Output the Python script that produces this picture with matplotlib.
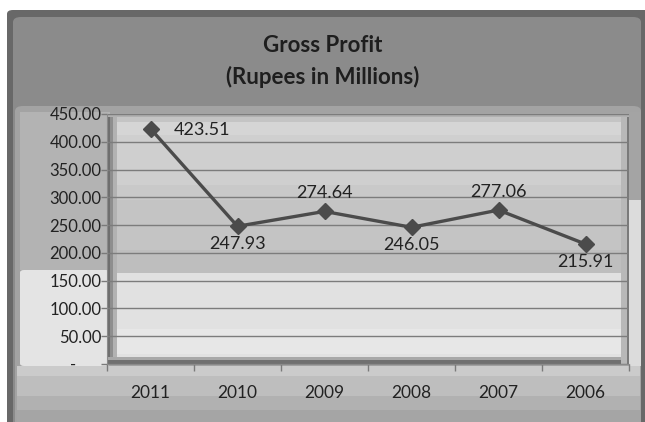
import matplotlib
matplotlib.use("Agg")
import matplotlib.pyplot as plt
from matplotlib.patches import FancyBboxPatch, Rectangle
from matplotlib.ticker import FixedLocator, FuncFormatter

years = ["2011", "2010", "2009", "2008", "2007", "2006"]
profit = [423.51, 247.93, 274.64, 246.05, 277.06, 215.91]
label_pos = ["right", "below", "above", "below", "above", "below"]
yticks = [0, 50, 100, 150, 200, 250, 300, 350, 400, 450]

W, H = 645, 422
fig = plt.figure(figsize=(W / 100, H / 100), dpi=100)
fig.patch.set_facecolor("white")
FONT = ["Lato", "DejaVu Sans"]

def px_rect(x0, y0, x1, y1, color, rounded=0, z=0):
    # pixel coords from top-left
    if rounded:
        p = FancyBboxPatch((x0 / W, 1 - y1 / H), (x1 - x0) / W, (y1 - y0) / H,
                           boxstyle=f"round,pad=0,rounding_size={rounded / W}",
                           transform=fig.transFigure, facecolor=color,
                           edgecolor="none", zorder=z)
    else:
        p = Rectangle((x0 / W, 1 - y1 / H), (x1 - x0) / W, (y1 - y0) / H,
                      transform=fig.transFigure, facecolor=color,
                      edgecolor="none", zorder=z)
    fig.patches.append(p)

# chart frame
px_rect(7, 10, 650, 440, "#686868", rounded=6)
px_rect(13, 17, 641, 440, "#8b8b8b", rounded=8)
# lower chart region
px_rect(15, 106, 641, 440, "#a3a3a3", rounded=8)
px_rect(20, 112, 110, 270, "#b3b3b3")
px_rect(20, 270, 110, 366, "#e4e4e4", rounded=4)
px_rect(17, 366, 640, 376, "#cbcbcb")
px_rect(17, 376, 640, 396, "#bebebe")
px_rect(17, 396, 640, 410, "#b1b1b1")
px_rect(17, 410, 640, 422, "#a5a5a5")
px_rect(629, 112, 641, 200, "#a4a4a4")
px_rect(629, 200, 641, 366, "#dcdcdc")

ax = fig.add_axes([107 / W, (H - 364) / H, 522 / W, 250 / H])
ax.set_facecolor("#c6c6c6")
ax.set_zorder(2)

# plot-area shading (decoration, axes fraction)
def ax_band(y0, y1, color, x0=0, x1=1):
    ax.add_patch(Rectangle((x0, y0), x1 - x0, y1 - y0, transform=ax.transAxes,
                           facecolor=color, edgecolor="none", zorder=0))

ax_band(0, 0.364, "#e1e1e1")
ax_band(0.04, 0.14, "#e7e7e7")
ax_band(0.364, 0.456, "#bebebe")
ax_band(0.456, 0.656, "#c4c4c4")
ax_band(0.656, 0.716, "#c9c9c9")
ax_band(0.716, 0.916, "#cfcfcf")
ax_band(0.916, 0.968, "#d5d5d5")
ax_band(0.968, 1.0, "#c4c4c4")
# inner shadows
ax_band(0, 1, "#6e6e6e", 0, 0.006)
ax_band(0, 1, "#8e8e8e", 0.006, 0.012)
ax_band(0, 1, "#b2b2b2", 0.012, 0.02)
ax_band(0, 0.015, "#707070")
ax_band(0.015, 0.03, "#a8a8a8")
ax_band(0, 1, "#7a7a7a", 0.996, 1.0)
ax_band(0, 1, "#b8b8b8", 0.985, 0.996)
ax_band(0.99, 1.0, "#b0b0b0")

x = list(range(len(years)))
ax.set_xlim(-0.5, len(years) - 0.5)
ax.set_ylim(0, 450)

ax.yaxis.set_major_locator(FixedLocator(yticks))
ax.yaxis.set_major_formatter(FuncFormatter(
    lambda v, p: "-      " if v == 0 else f"{v:,.2f}"))
ax.grid(axis="y", color="#7c7c7c", linewidth=1.0, zorder=1)
ax.set_axisbelow(True)

ax.plot(x, profit, color="#4b4b4b", linewidth=2.4, marker="D",
        markersize=8, markerfacecolor="#4b4b4b", markeredgecolor="#4b4b4b",
        zorder=5)

for xi, v, pos in zip(x, profit, label_pos):
    if pos == "right":
        off, ha, va = (17, -1), "left", "center"
    elif pos == "above":
        off, ha, va = (0, 13), "center", "center"
    else:
        off, ha, va = (0, -13), "center", "center"
    ax.annotate(f"{v:.2f}", (xi, v), xytext=off, textcoords="offset points",
                ha=ha, va=va, fontsize=13, color="#222222", family=FONT,
                zorder=6)

ax.set_xticks(x)
ax.set_xticklabels(years)
ax.set_xticks([i - 0.5 for i in range(len(years) + 1)], minor=True)
ax.tick_params(axis="x", which="major", length=0, pad=15, labelsize=12.5,
               labelcolor="#222222")
ax.tick_params(axis="x", which="minor", length=5, width=1, color="#7a7a7a",
               direction="out")
ax.tick_params(axis="y", length=4, width=1, color="#7a7a7a", pad=0,
               labelsize=12, labelcolor="#222222")
for lab in ax.get_xticklabels() + ax.get_yticklabels():
    lab.set_family(FONT)

for s in ["top", "right"]:
    ax.spines[s].set_visible(False)
ax.spines["left"].set_color("#8a8a8a")
ax.spines["bottom"].set_color("#8a8a8a")

fig.text(323 / W, 1 - 46 / H, "Gross Profit", ha="center", va="center",
         fontsize=16, fontweight="bold", color="#1e1e1e", family=FONT)
fig.text(323 / W, 1 - 77 / H, "(Rupees in Millions)", ha="center",
         va="center", fontsize=16, fontweight="bold", color="#1e1e1e",
         family=FONT)

fig.savefig("out.png", dpi=100)
